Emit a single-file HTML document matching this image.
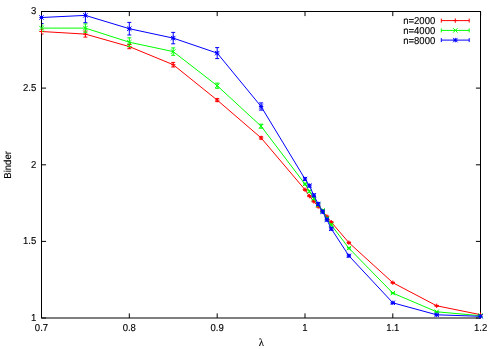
<!DOCTYPE html><html><head><meta charset="utf-8"><style>html,body{margin:0;padding:0;background:#fff}svg{display:block}text{font-family:"Liberation Sans",sans-serif;font-size:9.55px;fill:#000;stroke:#000;stroke-width:0.12px;text-rendering:geometricPrecision}</style></head><body>
<svg width="498" height="349" viewBox="0 0 498 349" style="will-change:transform">
<rect width="498" height="349" fill="#fff"/>
<defs><clipPath id="c"><rect x="42" y="12" width="438.15" height="305.5"/></clipPath></defs>
<g stroke="#000" stroke-width="1" fill="none">
<rect x="41.5" y="11.5" width="439" height="306.5"/>
<path d="M41.5 318.0v-4.6M41.5 11.5v4.6M129.3 318.0v-4.6M129.3 11.5v4.6M217.2 318.0v-4.6M217.2 11.5v4.6M305.0 318.0v-4.6M305.0 11.5v4.6M392.8 318.0v-4.6M392.8 11.5v4.6M480.6 318.0v-4.6M480.6 11.5v4.6M41.5 318.0h4.6M480.5 318.0h-4.6M41.5 241.4h4.6M480.5 241.4h-4.6M41.5 164.8h4.6M480.5 164.8h-4.6M41.5 88.1h4.6M480.5 88.1h-4.6M41.5 11.5h4.6M480.5 11.5h-4.6"/>
</g>
<g stroke="#ff0000" stroke-width="1" fill="none">
<polyline points="41.5,31.5 85.4,34.1 129.3,46.6 173.2,64.7 217.2,100.1 261.1,137.9 305.0,189.7 309.4,196.1 313.8,201.4 318.2,206.6 322.6,211.0 326.9,216.5 331.3,222.2 348.9,242.7 392.8,282.7 436.7,305.8 480.6,314.7"/>
<path clip-path="url(#c)" d="M41.5 29.0V34.0M39.5 29.0h4M39.5 34.0h4M85.4 31.1V37.1M83.4 31.1h4M83.4 37.1h4M129.3 44.5V48.7M127.3 44.5h4M127.3 48.7h4M173.2 62.4V67.0M171.2 62.4h4M171.2 67.0h4M217.2 98.6V101.6M215.2 98.6h4M215.2 101.6h4M261.1 136.7V139.1M259.1 136.7h4M259.1 139.1h4M305.0 189.1V190.3M303.0 189.1h4M303.0 190.3h4M309.4 195.5V196.7M307.4 195.5h4M307.4 196.7h4M313.8 200.8V202.0M311.8 200.8h4M311.8 202.0h4M318.2 206.0V207.2M316.2 206.0h4M316.2 207.2h4M322.6 210.4V211.6M320.6 210.4h4M320.6 211.6h4M326.9 215.9V217.1M324.9 215.9h4M324.9 217.1h4M331.3 221.6V222.8M329.3 221.6h4M329.3 222.8h4M348.9 242.1V243.3M346.9 242.1h4M346.9 243.3h4M392.8 282.2V283.2M390.8 282.2h4M390.8 283.2h4M436.7 305.4V306.2M434.7 305.4h4M434.7 306.2h4M480.6 314.4V315.0M478.6 314.4h4M478.6 315.0h4"/>
<path d="M39.3 31.5h4.4M41.5 29.3v4.4M83.2 34.1h4.4M85.4 31.9v4.4M127.1 46.6h4.4M129.3 44.4v4.4M171.0 64.7h4.4M173.2 62.5v4.4M215.0 100.1h4.4M217.2 97.9v4.4M258.9 137.9h4.4M261.1 135.7v4.4M302.8 189.7h4.4M305.0 187.5v4.4M307.2 196.1h4.4M309.4 193.9v4.4M311.6 201.4h4.4M313.8 199.2v4.4M316.0 206.6h4.4M318.2 204.4v4.4M320.4 211.0h4.4M322.6 208.8v4.4M324.7 216.5h4.4M326.9 214.3v4.4M329.1 222.2h4.4M331.3 220.0v4.4M346.7 242.7h4.4M348.9 240.5v4.4M390.6 282.7h4.4M392.8 280.5v4.4M434.5 305.8h4.4M436.7 303.6v4.4M478.4 314.7h4.4M480.6 312.5v4.4"/>
</g>
<g stroke="#00ff00" stroke-width="1" fill="none">
<polyline points="41.5,28.1 85.4,28.1 129.3,42.2 173.2,51.6 217.2,85.7 261.1,126.2 305.0,184.1 309.4,191.3 313.8,198.5 318.2,205.0 322.6,210.5 326.9,218.5 331.3,225.0 348.9,248.2 392.8,293.1 436.7,311.8 480.6,315.7"/>
<path clip-path="url(#c)" d="M41.5 25.1V31.1M39.5 25.1h4M39.5 31.1h4M85.4 23.9V32.3M83.4 23.9h4M83.4 32.3h4M129.3 37.8V46.6M127.3 37.8h4M127.3 46.6h4M173.2 47.9V55.3M171.2 47.9h4M171.2 55.3h4M217.2 83.1V88.3M215.2 83.1h4M215.2 88.3h4M261.1 124.2V128.2M259.1 124.2h4M259.1 128.2h4M305.0 183.2V185.0M303.0 183.2h4M303.0 185.0h4M309.4 190.4V192.2M307.4 190.4h4M307.4 192.2h4M313.8 197.6V199.4M311.8 197.6h4M311.8 199.4h4M318.2 204.1V205.9M316.2 204.1h4M316.2 205.9h4M322.6 209.6V211.4M320.6 209.6h4M320.6 211.4h4M326.9 217.6V219.4M324.9 217.6h4M324.9 219.4h4M331.3 224.1V225.9M329.3 224.1h4M329.3 225.9h4M348.9 247.4V249.0M346.9 247.4h4M346.9 249.0h4M392.8 292.5V293.7M390.8 292.5h4M390.8 293.7h4M436.7 311.4V312.2M434.7 311.4h4M434.7 312.2h4M480.6 315.4V316.0M478.6 315.4h4M478.6 316.0h4"/>
<path d="M39.3 25.9l4.4 4.4M39.3 30.3l4.4 -4.4M83.2 25.9l4.4 4.4M83.2 30.3l4.4 -4.4M127.1 40.0l4.4 4.4M127.1 44.4l4.4 -4.4M171.0 49.4l4.4 4.4M171.0 53.8l4.4 -4.4M215.0 83.5l4.4 4.4M215.0 87.9l4.4 -4.4M258.9 124.0l4.4 4.4M258.9 128.4l4.4 -4.4M302.8 181.9l4.4 4.4M302.8 186.3l4.4 -4.4M307.2 189.1l4.4 4.4M307.2 193.5l4.4 -4.4M311.6 196.3l4.4 4.4M311.6 200.7l4.4 -4.4M316.0 202.8l4.4 4.4M316.0 207.2l4.4 -4.4M320.4 208.3l4.4 4.4M320.4 212.7l4.4 -4.4M324.7 216.3l4.4 4.4M324.7 220.7l4.4 -4.4M329.1 222.8l4.4 4.4M329.1 227.2l4.4 -4.4M346.7 246.0l4.4 4.4M346.7 250.4l4.4 -4.4M390.6 290.9l4.4 4.4M390.6 295.3l4.4 -4.4M434.5 309.6l4.4 4.4M434.5 314.0l4.4 -4.4M478.4 313.5l4.4 4.4M478.4 317.9l4.4 -4.4"/>
</g>
<g stroke="#0000ff" stroke-width="1" fill="none">
<polyline points="41.5,17.5 85.4,15.4 129.3,28.7 173.2,38.1 217.2,53.1 261.1,106.5 305.0,179.0 309.4,185.7 313.8,195.3 318.2,204.0 322.6,211.7 326.9,219.7 331.3,228.8 348.9,255.8 392.8,302.8 436.7,314.8 480.6,316.3"/>
<path clip-path="url(#c)" d="M41.5 11.5V23.5M39.5 11.5h4M39.5 23.5h4M85.4 8.1V22.7M83.4 8.1h4M83.4 22.7h4M129.3 22.4V35.0M127.3 22.4h4M127.3 35.0h4M173.2 32.4V43.8M171.2 32.4h4M171.2 43.8h4M217.2 47.6V58.6M215.2 47.6h4M215.2 58.6h4M261.1 102.9V110.1M259.1 102.9h4M259.1 110.1h4M305.0 177.7V180.3M303.0 177.7h4M303.0 180.3h4M309.4 184.4V187.0M307.4 184.4h4M307.4 187.0h4M313.8 194.0V196.6M311.8 194.0h4M311.8 196.6h4M318.2 202.7V205.3M316.2 202.7h4M316.2 205.3h4M322.6 210.4V213.0M320.6 210.4h4M320.6 213.0h4M326.9 218.4V221.0M324.9 218.4h4M324.9 221.0h4M331.3 227.5V230.1M329.3 227.5h4M329.3 230.1h4M348.9 254.8V256.8M346.9 254.8h4M346.9 256.8h4M392.8 302.1V303.5M390.8 302.1h4M390.8 303.5h4M436.7 314.3V315.3M434.7 314.3h4M434.7 315.3h4M480.6 316.0V316.6M478.6 316.0h4M478.6 316.6h4"/>
<path d="M39.3 17.5h4.4M41.5 15.3v4.4M39.3 15.3l4.4 4.4M39.3 19.7l4.4 -4.4M83.2 15.4h4.4M85.4 13.2v4.4M83.2 13.2l4.4 4.4M83.2 17.6l4.4 -4.4M127.1 28.7h4.4M129.3 26.5v4.4M127.1 26.5l4.4 4.4M127.1 30.9l4.4 -4.4M171.0 38.1h4.4M173.2 35.9v4.4M171.0 35.9l4.4 4.4M171.0 40.3l4.4 -4.4M215.0 53.1h4.4M217.2 50.9v4.4M215.0 50.9l4.4 4.4M215.0 55.3l4.4 -4.4M258.9 106.5h4.4M261.1 104.3v4.4M258.9 104.3l4.4 4.4M258.9 108.7l4.4 -4.4M302.8 179.0h4.4M305.0 176.8v4.4M302.8 176.8l4.4 4.4M302.8 181.2l4.4 -4.4M307.2 185.7h4.4M309.4 183.5v4.4M307.2 183.5l4.4 4.4M307.2 187.9l4.4 -4.4M311.6 195.3h4.4M313.8 193.1v4.4M311.6 193.1l4.4 4.4M311.6 197.5l4.4 -4.4M316.0 204.0h4.4M318.2 201.8v4.4M316.0 201.8l4.4 4.4M316.0 206.2l4.4 -4.4M320.4 211.7h4.4M322.6 209.5v4.4M320.4 209.5l4.4 4.4M320.4 213.9l4.4 -4.4M324.7 219.7h4.4M326.9 217.5v4.4M324.7 217.5l4.4 4.4M324.7 221.9l4.4 -4.4M329.1 228.8h4.4M331.3 226.6v4.4M329.1 226.6l4.4 4.4M329.1 231.0l4.4 -4.4M346.7 255.8h4.4M348.9 253.6v4.4M346.7 253.6l4.4 4.4M346.7 258.0l4.4 -4.4M390.6 302.8h4.4M392.8 300.6v4.4M390.6 300.6l4.4 4.4M390.6 305.0l4.4 -4.4M434.5 314.8h4.4M436.7 312.6v4.4M434.5 312.6l4.4 4.4M434.5 317.0l4.4 -4.4M478.4 316.3h4.4M480.6 314.1v4.4M478.4 314.1l4.4 4.4M478.4 318.5l4.4 -4.4"/>
</g>
<text transform="translate(41.5,331.2) scale(1,1.05)" text-anchor="middle">0.7</text>
<text transform="translate(129.3,331.2) scale(1,1.05)" text-anchor="middle">0.8</text>
<text transform="translate(217.2,331.2) scale(1,1.05)" text-anchor="middle">0.9</text>
<text transform="translate(305.0,331.2) scale(1,1.05)" text-anchor="middle">1</text>
<text transform="translate(392.8,331.2) scale(1,1.05)" text-anchor="middle">1.1</text>
<text transform="translate(480.6,331.2) scale(1,1.05)" text-anchor="middle">1.2</text>
<text transform="translate(36.3,320.8) scale(1,1.05)" text-anchor="end">1</text>
<text transform="translate(36.3,244.2) scale(1,1.05)" text-anchor="end">1.5</text>
<text transform="translate(36.3,167.6) scale(1,1.05)" text-anchor="end">2</text>
<text transform="translate(36.3,90.9) scale(1,1.05)" text-anchor="end">2.5</text>
<text transform="translate(36.3,14.3) scale(1,1.05)" text-anchor="end">3</text>
<text transform="translate(11.4,164.9) rotate(-90) scale(1,1.05)" text-anchor="middle">Binder</text>
<text x="261.4" y="345.7" text-anchor="middle" style="font-family:'Liberation Serif',serif;font-size:10.8px">λ</text>
<text transform="translate(435.3,24.2) scale(1,1.05)" text-anchor="end">n=2000</text>
<path stroke="#ff0000" stroke-width="1" fill="none" d="M441.3 20.6H469.2M441.3 18.6v4M469.2 18.6v4M453.1 20.6h4.4M455.3 18.4v4.4"/>
<text transform="translate(435.3,34.0) scale(1,1.05)" text-anchor="end">n=4000</text>
<path stroke="#00ff00" stroke-width="1" fill="none" d="M441.3 30.4H469.2M441.3 28.4v4M469.2 28.4v4M453.1 28.2l4.4 4.4M453.1 32.6l4.4 -4.4"/>
<text transform="translate(435.3,43.7) scale(1,1.05)" text-anchor="end">n=8000</text>
<path stroke="#0000ff" stroke-width="1" fill="none" d="M441.3 40.1H469.2M441.3 38.1v4M469.2 38.1v4M453.1 40.1h4.4M455.3 37.9v4.4M453.1 37.9l4.4 4.4M453.1 42.3l4.4 -4.4"/>
</svg></body></html>
